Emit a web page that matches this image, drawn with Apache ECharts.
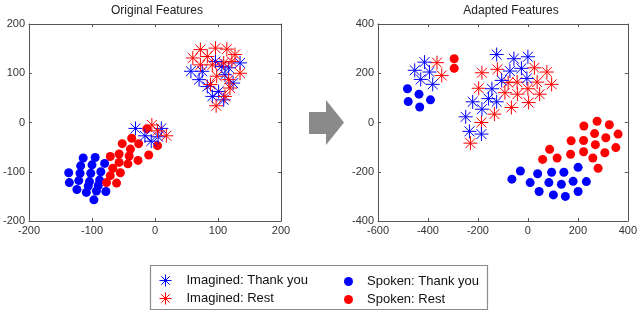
<!DOCTYPE html>
<html>
<head>
<meta charset="utf-8">
<script src="https://cdn.jsdelivr.net/npm/echarts@6/dist/echarts.min.js"></script>
<style>html,body{margin:0;padding:0;background:#fff;}#c{width:640px;height:312px;}</style>
</head>
<body>
<div id="c"></div>
<script>
// ---- Data ----
var titles = ['Original Features', 'Adapted Features'];
var seriesNames = ['Imagined: Thank you', 'Imagined: Rest', 'Spoken: Thank you', 'Spoken: Rest'];
var leftTicks = { min: -200, max: 200, step: 100 };
var rightXTicks = { min: -600, max: 400, step: 200 };
var rightYTicks = { min: -400, max: 400, step: 200 };

// Original features
var leftImgThank = [[-31,-12],[-16,-27],[-6,-38],[10,-12],[5,-29],
  [96,124],[106,114],[135,121],[117,111],[70,87],[83,73],[124,80],[91,53],[109,46],[101,63],[57,104],[111,97],[75,104]];
var leftImgRest = [[-5,-5],[18,-27],[4,-17],
  [72,148],[83,134],[96,151],[114,149],[127,138],[72,117],[91,117],[109,121],[122,124],[135,100],[98,94],[117,87],[88,77],[119,70],[97,34],[111,53],[60,131]];
var leftSpkThank = [[-114,-72],[-95,-71],[-118,-88],[-100,-86],[-80,-83],[-137,-102],[-119,-103],[-102,-103],[-86,-100],[-136,-122],
  [-121,-118],[-104,-120],[-88,-117],[-124,-136],[-109,-142],[-93,-139],[-78,-140],[-97,-157],[-106,-129],[-90,-128]];
var leftSpkRest = [[-13,-13],[4,-47],[-37,-32],[-52,-43],[-26,-43],[-39,-54],[-10,-66],[-57,-64],[-71,-69],[-41,-68],
  [-27,-77],[-57,-81],[-43,-84],[-67,-93],[-55,-102],[-71,-108],[-77,-122],[-61,-123]];

// Adapted features
var rightImgThank = [[-414,245],[-453,212],[-394,205],[-429,175],[-381,155],
  [-125,276],[-56,259],[0,267],[-72,209],[-26,220],[-105,171],[-4,179],[-144,137],[-221,84],[-184,54],[-158,97],[-125,84],[-249,23],[-234,-36],[-186,-47]];
var rightImgRest = [[-364,243],[-345,191],
  [-184,202],[-122,216],[26,222],[76,205],[95,155],[-197,139],[-79,162],[-43,164],[0,137],[37,164],[47,115],[-92,121],[-42,115],[-66,61],[3,81],[-134,34],[-186,0],[-230,-84]];
var rightSpkThank = [[-482,137],[-436,115],[-479,85],[-390,92],[-433,63],
  [-64,-230],[-30,-197],[9,-244],[39,-208],[45,-280],[84,-244],[95,-202],[102,-294],[134,-251],[144,-202],[150,-300],[181,-239],[201,-182],[201,-280],[234,-240]];
var rightSpkRest = [[-295,259],[-295,220],
  [87,-109],[59,-150],[117,-144],[173,-74],[171,-129],[224,-14],[223,-73],[223,-119],[277,5],[267,-45],[270,-90],[260,-144],[326,-9],[312,-62],[308,-123],[361,-47],[352,-102],[281,-186]];

// ---- Styling ----
var BLUE = '#0000ff', RED = '#ff0000';
var STAR = 'path://M10 0L10 20M0 10L20 10M2.93 2.93L17.07 17.07M2.93 17.07L17.07 2.93';
var FONT = 'Liberation Sans';
var AXC = '#555';

function mkAxis(t, pos, gridIndex, show) {
  return {
    type: 'value', gridIndex: gridIndex, position: pos,
    min: t.min, max: t.max, interval: t.step,
    axisLine: { show: true, onZero: false, lineStyle: { color: AXC, width: 1 } },
    axisTick: { show: true, inside: true, length: 3, lineStyle: { color: AXC } },
    axisLabel: { show: show, color: '#333', fontSize: 11, margin: 4, fontFamily: FONT },
    splitLine: { show: false }
  };
}

function starSeries(name, data, color, xi, yi) {
  return {
    type: 'scatter', name: name, data: data, xAxisIndex: xi, yAxisIndex: yi,
    symbol: STAR, symbolSize: 14,
    itemStyle: { color: 'rgba(0,0,0,0)', borderColor: color, borderWidth: 1, opacity: 1 },
    emphasis: { disabled: true }, silent: true
  };
}
function dotSeries(name, data, color, xi, yi) {
  return {
    type: 'scatter', name: name, data: data, xAxisIndex: xi, yAxisIndex: yi,
    symbol: 'circle', symbolSize: 9,
    itemStyle: { color: color, borderColor: color, borderWidth: 0, opacity: 1 },
    emphasis: { disabled: true }, silent: true
  };
}

var chart = echarts.init(document.getElementById('c'), null, { renderer: 'canvas' });
chart.setOption({
  animation: false,
  textStyle: { fontFamily: FONT },
  title: [
    { text: titles[0], left: 152, top: 0, textAlign: 'center', textStyle: { fontSize: 12, fontWeight: 'normal', color: '#222', fontFamily: FONT } },
    { text: titles[1], left: 506, top: 0, textAlign: 'center', textStyle: { fontSize: 12, fontWeight: 'normal', color: '#222', fontFamily: FONT } }
  ],
  grid: [
    { left: 24, top: 24, width: 257, height: 197 },
    { left: 378, top: 24, width: 255, height: 197 }
  ],
  xAxis: [
    mkAxis(leftTicks, 'bottom', 0, true),
    mkAxis(leftTicks, 'top', 0, false),
    mkAxis(rightXTicks, 'bottom', 1, true),
    mkAxis(rightXTicks, 'top', 1, false)
  ],
  yAxis: [
    mkAxis(leftTicks, 'left', 0, true),
    mkAxis(leftTicks, 'right', 0, false),
    mkAxis(rightYTicks, 'left', 1, true),
    mkAxis(rightYTicks, 'right', 1, false)
  ],
  legend: [
    { data: [seriesNames[0], seriesNames[1]], orient: 'vertical', left: 159, top: 274, height: 40,
      itemWidth: 12, itemHeight: 12, itemGap: 5, selectedMode: false, padding: 0,
      itemStyle: { borderWidth: 1 },
      textStyle: { fontSize: 13, color: '#111', fontFamily: FONT, padding: [0, 0, 0, 10] } },
    { data: [seriesNames[2], seriesNames[3]], orient: 'vertical', left: 344, top: 275, height: 40,
      itemWidth: 9, itemHeight: 9, itemGap: 5, selectedMode: false, padding: 0,
      textStyle: { fontSize: 13, color: '#111', fontFamily: FONT, padding: [0, 0, 0, 9] } }
  ],
  graphic: [
    { type: 'rect', shape: { x: 150.5, y: 265.5, width: 337, height: 44 }, style: { fill: 'none', stroke: '#8c8c8c', lineWidth: 1.2 }, silent: true },
    { type: 'polygon', shape: { points: [[309,112],[326,112],[326,100],[344,122.5],[326,145],[326,134],[309,134]] },
      style: { fill: '#8a8a8a' }, silent: true }
  ],
  series: [
    dotSeries(seriesNames[2], leftSpkThank, BLUE, 0, 0),
    dotSeries(seriesNames[3], leftSpkRest, RED, 0, 0),
    starSeries(seriesNames[0], leftImgThank, BLUE, 0, 0),
    starSeries(seriesNames[1], leftImgRest, RED, 0, 0),
    dotSeries(seriesNames[2], rightSpkThank, BLUE, 2, 2),
    dotSeries(seriesNames[3], rightSpkRest, RED, 2, 2),
    starSeries(seriesNames[1], rightImgRest, RED, 2, 2),
    starSeries(seriesNames[0], rightImgThank, BLUE, 2, 2)
  ]
});
</script>
</body>
</html>
